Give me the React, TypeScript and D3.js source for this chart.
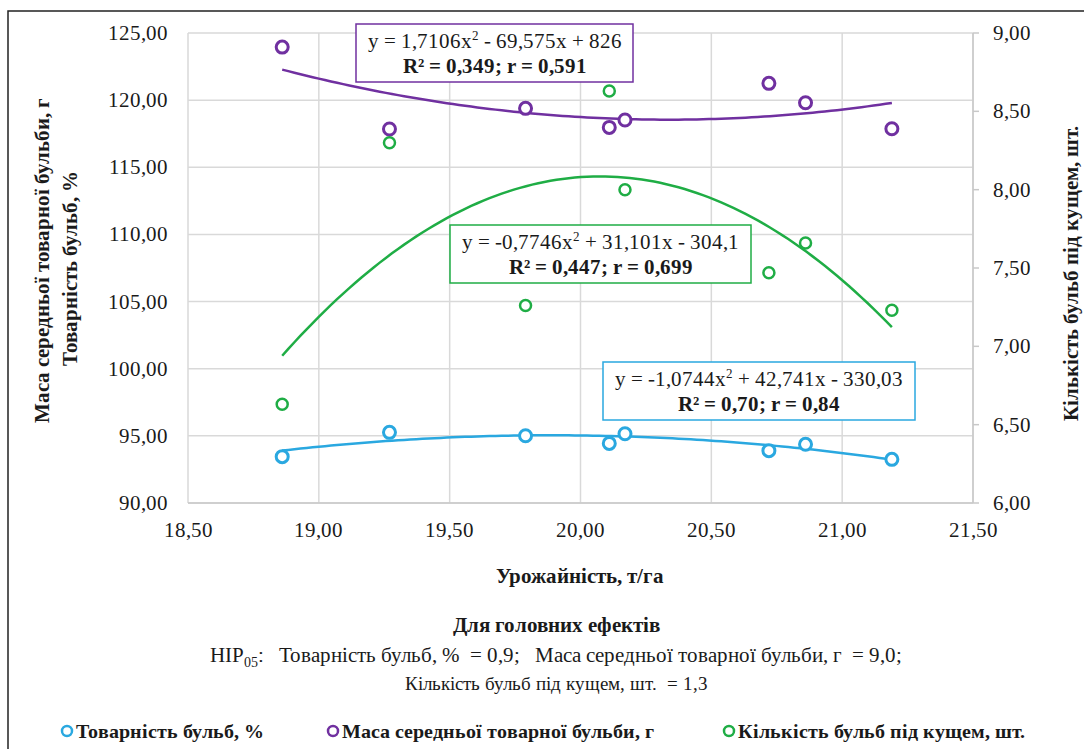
import * as React from 'react';
import * as d3 from 'd3';

// yield, t/ha (x for all three series)
const yieldX = [18.86, 19.27, 19.79, 20.11, 20.17, 20.72, 20.86, 21.19];
// left axis
const marketability = [93.45, 95.26, 95.01, 94.44, 95.16, 93.9, 94.37, 93.25];
const tuberMass = [123.95, 117.85, 119.39, 117.97, 118.52, 121.25, 119.81, 117.87];
// right axis
const tubersPerBush = [6.63, 8.3, 7.26, 8.63, 8.0, 7.47, 7.66, 7.23];

// polynomial trend coefficients [a, b, c] for a*x^2 + b*x + c
const trendMarket = [-1.0744, 42.741, -330.03];
const trendMass = [1.7106, -69.575, 826];
const trendBush = [-0.7746, 31.101, -304.1];

const xTicks = [18.5, 19, 19.5, 20, 20.5, 21, 21.5];
const yLeftTicks = [90, 95, 100, 105, 110, 115, 120, 125];
const yRightTicks = [6, 6.5, 7, 7.5, 8, 8.5, 9];

const names = ['Товарність бульб, %', 'Маса середньої товарної бульби, г', 'Кількість бульб під кущем, шт.'];
const colors = ['#2aa8e0', '#7030a0', '#1fad45'];

const fmt = (v: number) => v.toFixed(2).replace('.', ',');
const textColor = '#1a1a1a';
const serifStack = "ChartSerif, 'Liberation Serif', Tinos, 'Times New Roman', Times, 'DejaVu Serif', 'Noto Serif', FreeSerif, serif";

// plain text helper so every label gets the serif face
function T(props: any) {
  const { children, style, ...rest } = props;
  return (
    <text fill={textColor} fontFamily={serifStack} style={{ fontFamily: serifStack, ...style }} {...rest}>
      {children}
    </text>
  );
}

export default function App() {
  const x = d3.scaleLinear().domain([18.5, 21.5]).range([188, 973]);
  const yL = d3.scaleLinear().domain([90, 125]).range([503, 33]);
  const yR = d3.scaleLinear().domain([6, 9]).range([503, 33]);

  const lo = d3.min(yieldX)!;
  const hi = d3.max(yieldX)!;
  const xs = d3.range(0, 101).map(i => lo + (i / 100) * (hi - lo));
  const poly = (c: number[]) => (v: number) => c[0] * v * v + c[1] * v + c[2];
  const line = (c: number[], y: d3.ScaleLinear<number, number>) =>
    d3.line<number>().x(v => x(v)).y(v => y(poly(c)(v)))(xs) || '';

  const eqBox = (bx: number, by: number, w: number, color: string, eq: string[], stat: string) => (
    <g>
      <rect x={bx} y={by} width={w} height={58} fill="white" stroke={color} strokeWidth={1.5} />
      <T x={bx + w / 2} y={by + 24} textAnchor="middle" fontSize={21}>
        {eq[0]}
        <tspan fontSize={13} dy={-8}>2</tspan>
        <tspan dy={8}>{eq[1]}</tspan>
      </T>
      <T x={bx + w / 2} y={by + 49} textAnchor="middle" fontSize={21} fontWeight="bold">
        {stat}
      </T>
    </g>
  );

  return (
    <svg width={1084} height={749} style={{ position: 'absolute', left: 0, top: 0, background: 'white', fontFamily: serifStack }}>
      <style>{`
        @font-face { font-family: ChartSerif; src: local('Liberation Serif'), local('LiberationSerif'), local('Tinos'), local('Times New Roman'); font-weight: normal; }
        @font-face { font-family: ChartSerif; src: local('Liberation Serif Bold'), local('LiberationSerif-Bold'), local('Tinos Bold'), local('Times New Roman Bold'); font-weight: bold; }
        svg text { font-family: ${serifStack}; }
      `}</style>
      <rect x={8} y={11} width={1200} height={900} fill="white" stroke="#222" strokeWidth={1.5} />

      {/* grid */}
      {xTicks.map(t => (
        <line key={'gx' + t} x1={x(t)} x2={x(t)} y1={yL(125)} y2={yL(90)} stroke="#d9d9d9" strokeWidth={1.5} />
      ))}
      {yLeftTicks.map(t => (
        <line key={'gy' + t} x1={x(18.5)} x2={x(21.5)} y1={yL(t)} y2={yL(t)} stroke="#d9d9d9" strokeWidth={1.5} />
      ))}
      <line x1={x(21.5)} x2={x(21.5)} y1={yR(9)} y2={yR(6)} stroke="#c8c8c8" strokeWidth={1.5} />
      <line x1={x(18.5)} x2={x(21.5)} y1={yL(90)} y2={yL(90)} stroke="#c8c8c8" strokeWidth={1.5} />
      {yRightTicks.map(t => (
        <line key={'rt' + t} x1={x(21.5)} x2={x(21.5) + 6} y1={yR(t)} y2={yR(t)} stroke="#c8c8c8" strokeWidth={1.5} />
      ))}

      {/* tick labels */}
      {yLeftTicks.map(t => (
        <T key={'yl' + t} x={168} y={yL(t) + 7} textAnchor="end" fontSize={21}>{fmt(t)}</T>
      ))}
      {yRightTicks.map(t => (
        <T key={'yr' + t} x={993} y={yR(t) + 7} textAnchor="start" fontSize={21}>{fmt(t)}</T>
      ))}
      {xTicks.map(t => (
        <T key={'xl' + t} x={x(t)} y={537} textAnchor="middle" fontSize={21}>{fmt(t)}</T>
      ))}

      {/* axis titles */}
      <T x={580} y={583} textAnchor="middle" fontSize={21} fontWeight="bold">Урожайність, т/га</T>
      <T transform="translate(49,260) rotate(-90)" textAnchor="middle" fontSize={21} fontWeight="bold">{names[1]}</T>
      <T transform="translate(77,268) rotate(-90)" textAnchor="middle" fontSize={21} fontWeight="bold">{names[0]}</T>
      <T transform="translate(1078,273) rotate(-90)" textAnchor="middle" fontSize={21} fontWeight="bold">{names[2]}</T>

      {/* trend lines */}
      <path d={line(trendMarket, yL)} fill="none" stroke={colors[0]} strokeWidth={2.5} />
      <path d={line(trendMass, yL)} fill="none" stroke={colors[1]} strokeWidth={2.5} />
      <path d={line(trendBush, yR)} fill="none" stroke={colors[2]} strokeWidth={2.5} />

      {/* points */}
      {yieldX.map((v, i) => (
        <circle key={'m' + i} cx={x(v)} cy={yL(marketability[i])} r={6} fill="white" stroke={colors[0]} strokeWidth={3} />
      ))}
      {yieldX.map((v, i) => (
        <circle key={'w' + i} cx={x(v)} cy={yL(tuberMass[i])} r={6} fill="white" stroke={colors[1]} strokeWidth={3} />
      ))}
      {yieldX.map((v, i) => (
        <circle key={'b' + i} cx={x(v)} cy={yR(tubersPerBush[i])} r={5.5} fill="white" stroke={colors[2]} strokeWidth={2.5} />
      ))}

      {/* equations */}
      {eqBox(356, 24, 277, colors[1], ['y = 1,7106x', ' - 69,575x + 826'], 'R² = 0,349; r = 0,591')}
      {eqBox(450, 225, 301, colors[2], ['y = -0,7746x', ' + 31,101x - 304,1'], 'R² = 0,447; r = 0,699')}
      {eqBox(603, 362, 312, colors[0], ['y = -1,0744x', ' + 42,741x - 330,03'], 'R² = 0,70; r = 0,84')}

      {/* notes */}
      <T x={556} y={632} textAnchor="middle" fontSize={21} fontWeight="bold">Для головних ефектів</T>
      <T x={556} y={662} textAnchor="middle" fontSize={21} style={{ whiteSpace: 'pre' }}>
        НІР<tspan fontSize={14} dy={5}>05</tspan><tspan dy={-5}>{':   Товарність бульб, %  = 0,9;   Маса середньої товарної бульби, г  = 9,0;'}</tspan>
      </T>
      <T x={556} y={690} textAnchor="middle" fontSize={19} style={{ whiteSpace: 'pre' }}>{'Кількість бульб під кущем, шт.  = 1,3'}</T>

      {/* legend */}
      {[67, 333, 729].map((lx, i) => (
        <g key={'lg' + i}>
          <circle cx={lx} cy={731} r={5} fill="white" stroke={colors[i]} strokeWidth={2.5} />
          <T x={lx + 9} y={738} fontSize={20} fontWeight="bold">{names[i]}</T>
        </g>
      ))}
    </svg>
  );
}
